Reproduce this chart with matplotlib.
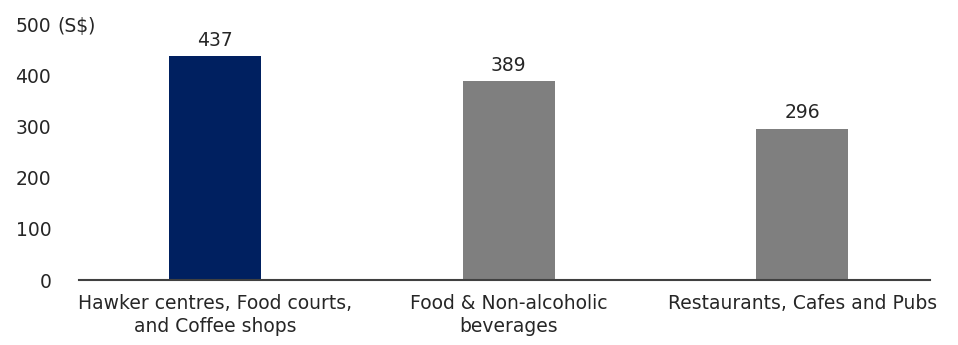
import matplotlib.pyplot as plt
import numpy as np

categories = ['Hawker centres, Food courts,\nand Coffee shops',
              'Food & Non-alcoholic\nbeverages',
              'Restaurants, Cafes and Pubs']
values = [437, 389, 296]
colors = ['#002060', '#7f7f7f', '#7f7f7f']
yticks = [0, 100, 200, 300, 400, 500]

plt.rcParams['font.family'] = ['DejaVu Sans']
fs = 13.5
txt_color = '#262626'

fig = plt.figure(figsize=(9.58, 3.45), dpi=100)
ax = fig.add_axes([0.0825, 0.1884, 0.8885, 0.7416])

x = np.arange(len(categories))
bars = ax.bar(x, values, width=0.313, color=colors, zorder=2)

for b, v in zip(bars, values):
    ax.text(b.get_x() + b.get_width() / 2, v + 12, str(v),
            ha='center', va='bottom', fontsize=fs, color=txt_color)

ax.set_xlim(-0.463, 2.436)
ax.set_ylim(0, 500)
ax.set_yticks(yticks)
ax.set_yticklabels([str(t) for t in yticks], fontsize=fs, color=txt_color)
# unit label next to the top tick
ax.annotate('(S$)', xy=(0, 500), xycoords=('axes fraction', 'data'),
            xytext=(-22, 0), textcoords='offset pixels',
            ha='left', va='center_baseline', fontsize=fs, color=txt_color)
ax.tick_params(axis='y', length=0, pad=20)

ax.set_xticks(x)
ax.set_xticklabels(categories, fontsize=fs, color=txt_color, linespacing=1.3)
ax.tick_params(axis='x', length=0, pad=10)

for s in ['top', 'right', 'left']:
    ax.spines[s].set_visible(False)
ax.spines['bottom'].set_color('#404040')
ax.spines['bottom'].set_linewidth(1.5)
ax.spines['bottom'].set_zorder(3)

fig.savefig('out.png', dpi=100)
